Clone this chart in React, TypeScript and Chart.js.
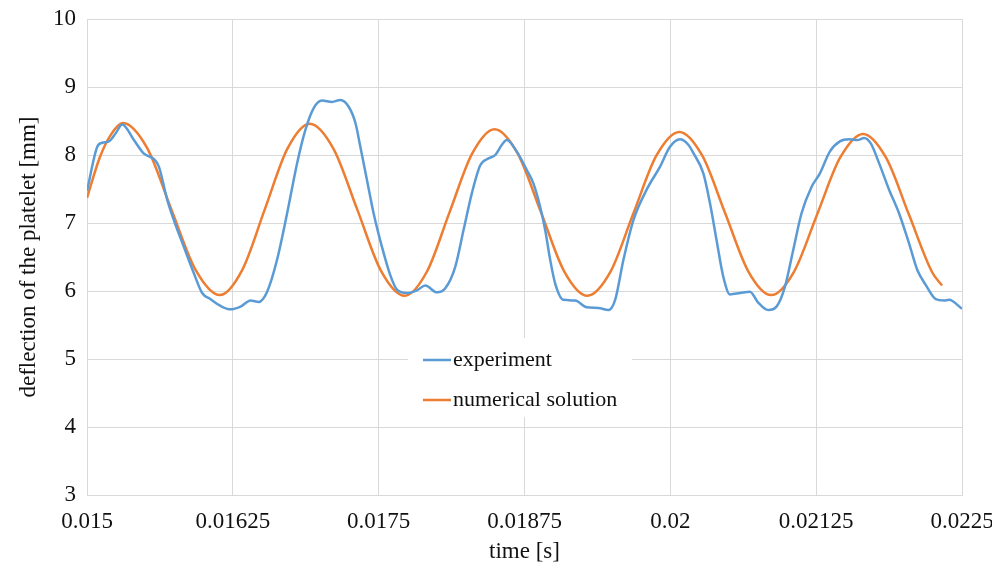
import React, { useEffect, useRef } from "react";
import { Chart, registerables } from "chart.js";

Chart.register(...registerables);

// ---- data (time in seconds, deflection in mm) ----
const expTime = [
  0.015, 0.015088, 0.015131, 0.015188, 0.015246, 0.015302, 0.015402, 0.015488,
  0.015574, 0.015616, 0.015688, 0.015745, 0.01583, 0.015916, 0.015987, 0.016059,
  0.016145, 0.01623, 0.016316, 0.016402, 0.016473, 0.016544, 0.016629, 0.016715,
  0.016801, 0.016872, 0.016943, 0.017015, 0.0171, 0.017172, 0.017243, 0.017301,
  0.017343, 0.0174, 0.017457, 0.017528, 0.0176, 0.017657, 0.017742, 0.017828,
  0.0179, 0.017999, 0.018071, 0.018157, 0.018228, 0.018299, 0.018371, 0.018442,
  0.018499, 0.018556, 0.018598, 0.018684, 0.01877, 0.018827, 0.018884, 0.018927,
  0.01897, 0.019013, 0.019084, 0.019184, 0.019283, 0.019384, 0.019469, 0.019527,
  0.019598, 0.019683, 0.019797, 0.019912, 0.019997, 0.020083, 0.020154, 0.020197,
  0.020283, 0.02034, 0.020396, 0.020454, 0.020511, 0.020597, 0.020682, 0.020753,
  0.020839, 0.02091, 0.020982, 0.021053, 0.021124, 0.02121, 0.021282, 0.021367,
  0.021453, 0.021533, 0.021604, 0.021661, 0.021718, 0.021789, 0.021875, 0.021961,
  0.022046, 0.022117, 0.022189, 0.022275, 0.022346, 0.022389, 0.0225,
];
const expDeflection = [
  7.47, 8.12, 8.18, 8.2, 8.32, 8.45, 8.22, 8.02,
  7.94, 7.83, 7.34, 7.04, 6.65, 6.26, 5.97, 5.88,
  5.78, 5.73, 5.77, 5.86, 5.84, 5.99, 6.46, 7.14,
  7.88, 8.37, 8.69, 8.8, 8.78, 8.81, 8.71, 8.47,
  8.12, 7.63, 7.14, 6.65, 6.23, 6.02, 5.97, 6.01,
  6.08, 5.98, 6.04, 6.36, 6.9, 7.44, 7.85, 7.95,
  8.0, 8.15, 8.22, 8.05, 7.78, 7.58, 7.24, 6.9,
  6.46, 6.11, 5.87, 5.86, 5.76, 5.75, 5.72, 5.87,
  6.46, 7.04, 7.49, 7.83, 8.12, 8.23, 8.15, 8.03,
  7.73, 7.29, 6.75, 6.21, 5.95, 5.97, 5.99, 5.83,
  5.72, 5.77, 6.06, 6.6, 7.14, 7.53, 7.73, 8.05,
  8.2, 8.23, 8.22, 8.25, 8.17, 7.88, 7.49, 7.14,
  6.7, 6.31, 6.09, 5.88, 5.86, 5.87, 5.74,
];

const numTime = [
  0.015, 0.015111, 0.015205, 0.015308, 0.015516, 0.015723, 0.015931, 0.016139,
  0.016331, 0.016524, 0.016717, 0.016909, 0.017113, 0.017316, 0.017519, 0.017723,
  0.017915, 0.018108, 0.018301, 0.018493, 0.018692, 0.018891, 0.01909, 0.019289,
  0.019486, 0.019683, 0.01988, 0.020077, 0.020274, 0.020471, 0.020668, 0.020865,
  0.021062, 0.021259, 0.021455, 0.021652, 0.021849, 0.022046, 0.022243, 0.022329,
];
const numDeflection = [
  7.37, 7.97, 8.3, 8.47, 8.1, 7.2, 6.31, 5.94,
  6.31, 7.2, 8.09, 8.46, 8.09, 7.2, 6.3, 5.93,
  6.29, 7.16, 8.02, 8.38, 8.02, 7.16, 6.29, 5.93,
  6.28, 7.14, 7.99, 8.34, 7.99, 7.14, 6.29, 5.94,
  6.29, 7.13, 7.96, 8.31, 7.96, 7.12, 6.28, 6.08,
];

const xTicks = [0.015, 0.01625, 0.0175, 0.01875, 0.02, 0.02125, 0.0225];
const xTickLabels = ["0.015", "0.01625", "0.0175", "0.01875", "0.02", "0.02125", "0.0225"];
const yTicks = [3, 4, 5, 6, 7, 8, 9, 10];

const seriesNames = ["experiment", "numerical solution"];
const seriesColors = ["#5B9BD5", "#ED7D31"];

const FONT = "'Liberation Serif', 'Times New Roman', serif";
const GRID = "#d9d9d9";
const TEXT = "#111111";

const innerLegend = {
  id: "innerLegend",
  afterDatasetsDraw(chart: any) {
    const { ctx, chartArea } = chart;
    const x0 = chartArea.left + 321;
    const y0 = chartArea.top + 319;
    ctx.save();
    ctx.fillStyle = "#ffffff";
    ctx.fillRect(x0, y0, 224, 79);
    chart.data.datasets.forEach((ds: any, i: number) => {
      const cy = y0 + 22 + i * 40;
      ctx.strokeStyle = ds.borderColor;
      ctx.lineWidth = 2.5;
      ctx.beginPath();
      ctx.moveTo(x0 + 15, cy);
      ctx.lineTo(x0 + 43, cy);
      ctx.stroke();
      ctx.fillStyle = TEXT;
      ctx.font = `22px ${FONT}`;
      ctx.textBaseline = "middle";
      ctx.textAlign = "left";
      ctx.fillText(ds.label, x0 + 45, cy);
    });
    ctx.restore();
  },
};

const zeroPad = (scale: any) => {
  scale.paddingLeft = 0;
  scale.paddingRight = 0;
  scale.paddingTop = 0;
  scale.paddingBottom = 0;
};

export default function App() {
  const ref = useRef<HTMLCanvasElement | null>(null);

  useEffect(() => {
    if (!ref.current) return;
    const expData = expTime.map((t, i) => ({ x: t, y: expDeflection[i] }));
    const numData = numTime.map((t, i) => ({ x: t, y: numDeflection[i] }));
    const chart = new Chart(ref.current, {
      type: "line",
      data: {
        datasets: [
          {
            label: seriesNames[0],
            data: expData,
            borderColor: seriesColors[0],
            backgroundColor: seriesColors[0],
            borderWidth: 2.5,
            pointRadius: 0,
            cubicInterpolationMode: "monotone",
          },
          {
            label: seriesNames[1],
            data: numData,
            borderColor: seriesColors[1],
            backgroundColor: seriesColors[1],
            borderWidth: 2.5,
            pointRadius: 0,
            cubicInterpolationMode: "monotone",
          },
        ],
      },
      options: {
        animation: false,
        responsive: true,
        maintainAspectRatio: false,
        layout: { padding: { top: 19, right: 30, left: 0, bottom: 0 }, autoPadding: false },
        plugins: { legend: { display: false }, tooltip: { enabled: false } },
        scales: {
          x: {
            type: "linear",
            min: 0.015,
            max: 0.0225,
            afterBuildTicks: (scale: any) => {
              scale.ticks = xTicks.map((v) => ({ value: v }));
            },
            afterFit: (scale: any) => {
              scale.height = 75;
              zeroPad(scale);
            },
            ticks: {
              callback: (_v: any, i: number) => xTickLabels[i],
              font: { family: FONT, size: 23 },
              color: TEXT,
              padding: 13,
              maxRotation: 0,
              autoSkip: false,
            },
            grid: { color: GRID, lineWidth: 1, drawTicks: false },
            border: { color: GRID },
            title: {
              display: true,
              text: "time [s]",
              font: { family: FONT, size: 23 },
              color: TEXT,
              padding: { top: 0, bottom: 4 },
            },
          },
          y: {
            type: "linear",
            min: 3,
            max: 10,
            afterBuildTicks: (scale: any) => {
              scale.ticks = yTicks.map((v) => ({ value: v }));
            },
            afterFit: (scale: any) => {
              scale.width = 87;
              zeroPad(scale);
            },
            ticks: {
              font: { family: FONT, size: 23 },
              color: TEXT,
              padding: 11,
            },
            grid: { color: GRID, lineWidth: 1, drawTicks: false },
            border: { color: GRID },
            title: {
              display: true,
              text: "deflection of the platelet [mm]",
              font: { family: FONT, size: 23 },
              color: TEXT,
              padding: { top: 15, bottom: 0 },
            },
          },
        },
      },
      plugins: [innerLegend],
    });
    return () => chart.destroy();
  }, []);

  return (
    <div style={{ position: "absolute", left: 0, top: 0, width: 992, height: 570, background: "#fff" }}>
      <canvas ref={ref} />
    </div>
  );
}
